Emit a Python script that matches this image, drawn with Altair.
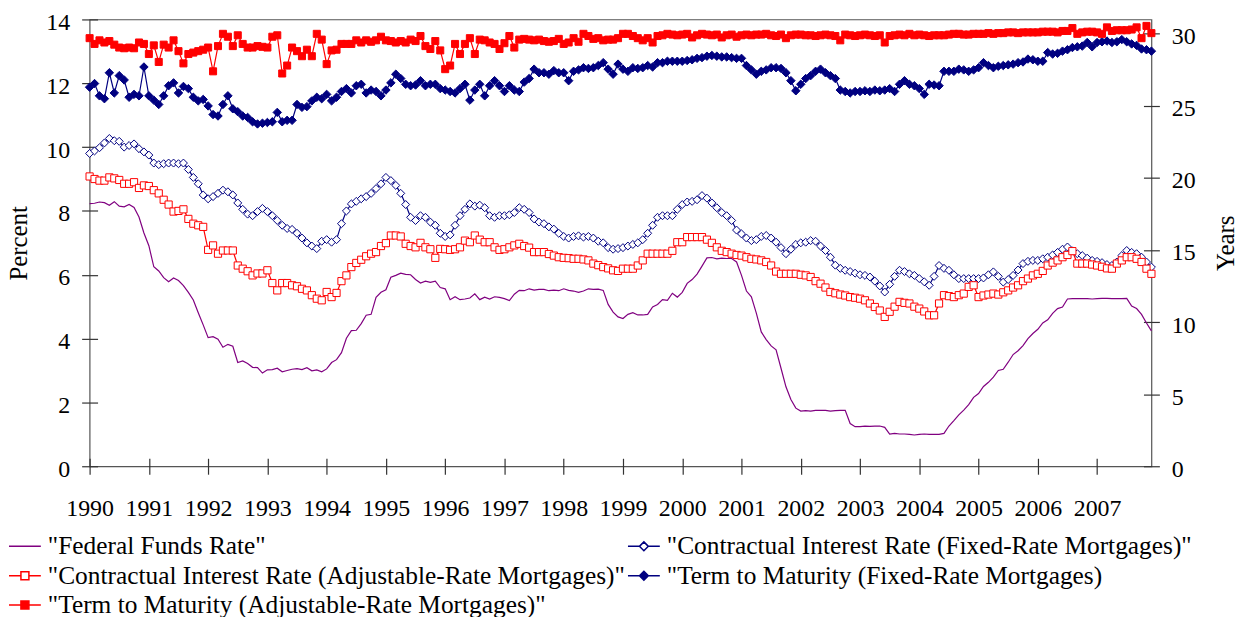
import altair as alt
import pandas as pd

YEARS = list(range(1990, 2008))
MONTHS = list(range(1, 13))

# legend is laid out column by column: left column first, then right column
SERIES = [
    '"Federal Funds Rate"',
    '"Contractual Interest Rate (Adjustable-Rate Mortgages)"',
    '"Term to Maturity (Adjustable-Rate Mortgages)"',
    '"Contractual Interest Rate (Fixed-Rate Mortgages)"',
    '"Term to Maturity (Fixed-Rate Mortgages)',
]

FED_FUNDS = [
    8.23, 8.24, 8.28, 8.26, 8.18, 8.29, 8.15, 8.13, 8.20, 8.11, 7.81, 7.31,
    6.91, 6.25, 6.12, 5.91, 5.78, 5.90, 5.82, 5.66, 5.45, 5.21, 4.81, 4.43,
    4.03, 4.06, 3.98, 3.73, 3.82, 3.76, 3.25, 3.30, 3.22, 3.10, 3.09, 2.92,
    3.02, 3.03, 3.07, 2.96, 3.00, 3.04, 3.06, 3.03, 3.09, 2.99, 3.02, 2.96,
    3.05, 3.25, 3.34, 3.56, 4.01, 4.25, 4.26, 4.47, 4.73, 4.76, 5.29, 5.45,
    5.53, 5.92, 5.98, 6.05, 6.01, 6.00, 5.85, 5.74, 5.80, 5.76, 5.80, 5.60,
    5.56, 5.22, 5.31, 5.22, 5.24, 5.27, 5.40, 5.22, 5.30, 5.24, 5.31, 5.29,
    5.25, 5.19, 5.39, 5.51, 5.50, 5.56, 5.52, 5.54, 5.54, 5.50, 5.52, 5.50,
    5.56, 5.51, 5.49, 5.45, 5.49, 5.56, 5.54, 5.55, 5.51, 5.07, 4.83, 4.68,
    4.63, 4.76, 4.81, 4.74, 4.74, 4.76, 4.99, 5.07, 5.22, 5.20, 5.42, 5.30,
    5.45, 5.73, 5.85, 6.02, 6.27, 6.53, 6.54, 6.50, 6.52, 6.51, 6.51, 6.40,
    5.98, 5.49, 5.31, 4.80, 4.21, 3.97, 3.77, 3.65, 3.07, 2.49, 2.09, 1.82,
    1.73, 1.74, 1.73, 1.75, 1.75, 1.75, 1.73, 1.74, 1.75, 1.75, 1.34, 1.24,
    1.24, 1.26, 1.25, 1.26, 1.26, 1.22, 1.01, 1.03, 1.01, 1.01, 1.00, 0.98,
    1.00, 1.01, 1.00, 1.00, 1.00, 1.03, 1.26, 1.43, 1.61, 1.76, 1.93, 2.16,
    2.28, 2.50, 2.63, 2.79, 3.00, 3.04, 3.26, 3.50, 3.62, 3.78, 4.00, 4.16,
    4.29, 4.49, 4.59, 4.79, 4.94, 4.99, 5.24, 5.25, 5.25, 5.25, 5.25, 5.24,
    5.25, 5.26, 5.26, 5.25, 5.25, 5.25, 5.26, 5.02, 4.94, 4.76, 4.49, 4.24,
]

FRM_RATE = [
    9.80, 9.88, 9.98, 10.13, 10.27, 10.20, 10.18, 10.00, 10.05, 10.10, 9.95, 9.85,
    9.75, 9.50, 9.45, 9.48, 9.50, 9.50, 9.48, 9.50, 9.30, 9.05, 8.85, 8.50,
    8.38, 8.45, 8.55, 8.65, 8.60, 8.50, 8.25, 8.05, 7.90, 7.85, 7.98, 8.08,
    7.98, 7.85, 7.70, 7.55, 7.45, 7.42, 7.30, 7.15, 7.00, 6.90, 6.82, 7.05,
    7.10, 7.02, 7.10, 7.60, 8.00, 8.22, 8.30, 8.38, 8.45, 8.55, 8.70, 8.85,
    9.05, 8.95, 8.80, 8.55, 8.20, 7.80, 7.70, 7.85, 7.80, 7.65, 7.55, 7.30,
    7.20, 7.25, 7.55, 7.85, 8.05, 8.22, 8.15, 8.18, 8.10, 7.85, 7.80, 7.85,
    7.85, 7.88, 7.95, 8.10, 8.05, 7.95, 7.75, 7.65, 7.60, 7.50, 7.43, 7.30,
    7.20, 7.15, 7.20, 7.22, 7.18, 7.20, 7.15, 7.05, 7.00, 6.85, 6.80, 6.82,
    6.85, 6.90, 6.95, 7.00, 7.10, 7.30, 7.55, 7.80, 7.85, 7.85, 7.85, 8.05,
    8.20, 8.28, 8.30, 8.35, 8.48, 8.40, 8.25, 8.10, 7.95, 7.85, 7.70, 7.40,
    7.28, 7.15, 7.07, 7.10, 7.20, 7.23, 7.15, 7.02, 6.85, 6.66, 6.80, 6.95,
    7.00, 7.02, 7.07, 7.05, 6.90, 6.76, 6.55, 6.30, 6.20, 6.14, 6.10, 6.05,
    6.00, 5.98, 5.93, 5.80, 5.65, 5.46, 5.70, 5.95, 6.14, 6.10, 6.03, 5.98,
    5.88, 5.78, 5.67, 5.95, 6.29, 6.20, 6.14, 6.00, 5.88, 5.88, 5.88, 5.88,
    5.88, 5.90, 6.00, 6.09, 5.95, 5.77, 5.85, 5.98, 6.15, 6.35, 6.42, 6.45,
    6.45, 6.50, 6.55, 6.62, 6.70, 6.80, 6.87, 6.75, 6.66, 6.60, 6.52, 6.45,
    6.42, 6.38, 6.32, 6.29, 6.40, 6.60, 6.76, 6.70, 6.66, 6.55, 6.40, 6.24,
]

ARM_RATE = [
    9.08, 9.00, 8.95, 8.95, 9.05, 9.02, 8.97, 8.85, 8.85, 8.90, 8.72, 8.80,
    8.78, 8.65, 8.55, 8.35, 8.20, 7.98, 8.00, 8.05, 7.75, 7.60, 7.55, 7.50,
    6.78, 6.92, 6.66, 6.76, 6.76, 6.76, 6.29, 6.19, 6.11, 5.98, 6.04, 6.04,
    6.14, 5.74, 5.51, 5.74, 5.74, 5.67, 5.64, 5.56, 5.51, 5.36, 5.25, 5.20,
    5.46, 5.30, 5.43, 5.80, 5.98, 6.24, 6.37, 6.47, 6.58, 6.66, 6.71, 6.90,
    6.99, 7.23, 7.23, 7.20, 6.97, 6.90, 6.86, 7.00, 6.86, 6.80, 6.53, 6.81,
    6.80, 6.78, 6.80, 6.86, 7.07, 7.02, 7.23, 7.10, 7.02, 7.02, 6.86, 6.78,
    6.80, 6.86, 6.92, 6.97, 6.90, 6.85, 6.71, 6.71, 6.71, 6.65, 6.60, 6.55,
    6.53, 6.52, 6.50, 6.50, 6.48, 6.45, 6.35, 6.30, 6.24, 6.20, 6.14, 6.12,
    6.19, 6.19, 6.19, 6.29, 6.45, 6.66, 6.66, 6.66, 6.66, 6.66, 6.75, 7.02,
    7.02, 7.18, 7.18, 7.18, 7.18, 7.10, 7.00, 6.86, 6.75, 6.71, 6.66, 6.62,
    6.60, 6.55, 6.50, 6.48, 6.45, 6.40, 6.29, 6.10, 6.03, 6.03, 6.03, 6.03,
    6.00, 5.98, 5.93, 5.80, 5.72, 5.60, 5.46, 5.42, 5.38, 5.35, 5.30, 5.28,
    5.25, 5.20, 5.10, 4.99, 4.88, 4.68, 4.84, 5.00, 5.15, 5.12, 5.10, 5.00,
    4.94, 4.85, 4.73, 4.73, 5.10, 5.36, 5.33, 5.30, 5.36, 5.41, 5.62, 5.67,
    5.30, 5.35, 5.38, 5.41, 5.38, 5.45, 5.51, 5.60, 5.67, 5.80, 5.88, 5.98,
    6.03, 6.12, 6.29, 6.38, 6.45, 6.55, 6.62, 6.74, 6.35, 6.35, 6.35, 6.32,
    6.29, 6.25, 6.20, 6.19, 6.35, 6.45, 6.55, 6.55, 6.50, 6.40, 6.19, 6.03,
]

FRM_TERM = [
    26.3, 26.55, 25.7, 25.5, 27.3, 25.9, 27.1, 26.8, 25.6, 25.8, 25.7, 27.7,
    25.7, 25.4, 25.1, 25.7, 26.4, 26.6, 25.9, 26.35, 26.2, 25.6, 25.35, 25.45,
    25.0, 24.4, 24.3, 25.1, 25.7, 24.8, 24.6, 24.3, 24.2, 23.9, 23.75, 23.8,
    23.85, 23.9, 24.55, 23.9, 24.0, 24.0, 25.1, 24.9, 24.95, 25.35, 25.6, 25.5,
    25.8, 25.35, 25.6, 26.0, 26.2, 25.9, 26.4, 26.5, 25.9, 26.1, 26.0, 25.7,
    26.1, 26.6, 27.2, 26.9, 26.5, 26.4, 26.45, 26.75, 26.4, 26.5, 26.5, 26.2,
    26.1, 26.0, 25.9, 26.2, 26.5, 25.4, 26.1, 26.5, 25.7, 26.4, 26.75, 26.4,
    26.0, 26.4, 26.1, 26.0, 26.65, 26.9, 27.55, 27.3, 27.3, 27.2, 27.45, 27.3,
    27.3, 26.75, 27.4, 27.5, 27.65, 27.6, 27.65, 27.8, 28.0, 27.55, 27.2, 27.9,
    27.55, 27.4, 27.65, 27.6, 27.65, 27.8, 27.7, 28.0, 28.0, 28.1, 28.1, 28.1,
    28.1, 28.15, 28.2, 28.3, 28.35, 28.45, 28.5, 28.45, 28.4, 28.4, 28.35, 28.3,
    28.3, 27.8, 27.5, 27.2, 27.4, 27.5, 27.65, 27.65, 27.6, 27.3, 26.75, 26.05,
    26.5, 26.9, 27.1, 27.4, 27.55, 27.3, 27.1, 26.9, 26.1, 26.0, 25.9, 26.0,
    26.0, 26.05, 26.0, 26.1, 26.05, 26.1, 26.2, 26.0, 26.5, 26.75, 26.5, 26.4,
    26.2, 25.8, 26.5, 26.45, 26.4, 27.4, 27.4, 27.4, 27.55, 27.5, 27.4, 27.5,
    27.65, 28.0, 27.8, 27.65, 27.75, 27.8, 27.85, 27.9, 28.0, 28.05, 28.25, 28.2,
    28.1, 28.1, 28.7, 28.6, 28.65, 28.8, 28.9, 29.05, 29.1, 29.15, 29.4, 29.1,
    29.4, 29.45, 29.5, 29.4, 29.45, 29.6, 29.45, 29.3, 29.2, 28.95, 28.9, 28.8,
]

ARM_TERM = [
    29.7, 29.3, 29.55, 29.4, 29.5, 29.25, 29.05, 29.0, 29.05, 29.0, 29.4, 29.3,
    28.6, 29.2, 28.05, 29.25, 29.05, 29.55, 28.8, 27.95, 28.6, 28.7, 28.8, 28.9,
    29.05, 27.4, 29.15, 30.0, 29.8, 29.15, 29.9, 29.3, 29.05, 29.05, 29.15, 29.1,
    29.05, 29.8, 29.9, 27.25, 27.8, 29.05, 28.8, 28.45, 28.9, 28.45, 30.0, 29.6,
    27.9, 28.85, 28.9, 29.3, 29.3, 29.3, 29.55, 29.4, 29.55, 29.45, 29.55, 29.8,
    29.55, 29.5, 29.4, 29.5, 29.4, 29.6, 29.5, 29.85, 29.15, 28.95, 29.5, 28.85,
    27.55, 27.8, 29.3, 28.6, 29.3, 29.7, 28.6, 29.6, 29.55, 29.4, 29.3, 28.95,
    29.35, 29.85, 29.05, 29.6, 29.65, 29.6, 29.55, 29.6, 29.5, 29.45, 29.5, 29.65,
    29.3, 29.4, 29.7, 29.45, 30.0, 29.85, 29.65, 29.7, 29.55, 29.6, 29.6, 29.7,
    30.0, 30.0, 29.85, 29.7, 29.55, 29.7, 29.4, 29.85, 29.9, 30.0, 29.95, 29.9,
    29.95, 30.0, 29.75, 29.9, 30.0, 29.95, 29.9, 29.95, 29.75, 29.9, 29.95, 29.8,
    29.9, 29.95, 29.9, 29.95, 29.95, 30.0, 29.9, 29.85, 29.95, 29.7, 29.9, 29.95,
    29.95, 29.9, 29.9, 29.85, 29.9, 29.95, 29.9, 29.85, 29.55, 29.95, 29.9, 29.85,
    29.9, 29.95, 29.9, 29.85, 29.9, 29.4, 29.85, 29.9, 29.95, 29.9, 30.0, 29.9,
    29.95, 29.9, 29.85, 29.9, 29.9, 29.9, 29.95, 30.0, 30.0, 29.95, 29.95, 30.0,
    30.0, 30.0, 30.05, 30.0, 30.05, 30.05, 30.1, 30.1, 30.05, 30.1, 30.1, 30.1,
    30.1, 30.15, 30.15, 30.15, 30.1, 30.2, 30.2, 30.4, 30.0, 30.1, 30.15, 30.15,
    30.1, 30.0, 30.45, 30.2, 30.25, 30.25, 30.25, 30.3, 30.45, 29.7, 30.55, 30.05,
]

PURPLE, NAVY, RED = "#800080", "#000080", "#FF0000"
# same order as SERIES
STROKES = [PURPLE, RED, RED, NAVY, NAVY]
FILLS = ["white", "white", RED, "white", NAVY]
LEGEND_SHAPES = [
    "M-1,0H1",
    "M-1,0H-0.25M0.25,0H1M-0.25,-0.25H0.25V0.25H-0.25Z",
    "M-1,0H1M-0.25,-0.25H0.25V0.25H-0.25Z",
    "M-1,0H-0.28M0.28,0H1M0,-0.28L0.28,0L0,0.28L-0.28,0Z",
    "M-1,0H1M0,-0.28L0.28,0L0,0.28L-0.28,0Z",
]

T = [y + (m - 1) / 12 for y in YEARS for m in MONTHS]
for arr in (FED_FUNDS, FRM_RATE, ARM_RATE, FRM_TERM, ARM_TERM):
    assert len(arr) == len(T)


def frame(name, values):
    return pd.DataFrame({"t": T, "value": values, "series": name})


df_ffr = frame(SERIES[0], FED_FUNDS)
df_arm = frame(SERIES[1], ARM_RATE)
df_arm_t = frame(SERIES[2], ARM_TERM)
df_frm = frame(SERIES[3], FRM_RATE)
df_frm_t = frame(SERIES[4], FRM_TERM)
df_all = pd.concat([df_ffr, df_arm, df_arm_t, df_frm, df_frm_t], ignore_index=True)

FONT = "Liberation Serif"

x_enc = alt.X(
    "t:Q",
    scale=alt.Scale(domain=[T[0], T[-1]], nice=False, zero=False),
    axis=alt.Axis(values=YEARS, format="d", title=None, offset=-8, tickSize=16,
                  labelPadding=22, labelFlush=False, labelOverlap=False),
)
y_left = alt.Y(
    "value:Q",
    scale=alt.Scale(domain=[0, 14], nice=False, zero=True),
    axis=alt.Axis(values=list(range(0, 15, 2)), orient="left", title="Percent",
                  offset=-8, tickSize=16, labelPadding=12, labelOffset=3,
                  titlePadding=14),
)
y_right = alt.Y(
    "value:Q",
    scale=alt.Scale(domain=[0, 31], nice=False, zero=True),
    axis=alt.Axis(values=list(range(0, 31, 5)), orient="right", title="Years",
                  offset=-8, tickSize=16, labelPadding=12, labelOffset=3,
                  titlePadding=18, titleAngle=270, titleBaseline="top"),
)


def line(df, color, y, width=1.2):
    return alt.Chart(df).mark_line(color=color, strokeWidth=width).encode(x=x_enc, y=y)


def points(df, shape, size, fill, stroke, y):
    return alt.Chart(df).mark_point(
        shape=shape, size=size, filled=True, fill=fill, stroke=stroke,
        strokeWidth=1, opacity=1
    ).encode(x=x_enc, y=y)


legend = alt.Legend(
    orient="none", legendX=-82, legendY=515, columns=2, title=None,
    symbolSize=1024, symbolStrokeWidth=1.5, symbolFillColor="white",
    symbolStrokeColor="black", symbolOpacity=1, labelOffset=6,
    columnPadding=1, rowPadding=0.5, clipHeight=29, labelLimit=1000, padding=0,
    labelFont=FONT, labelFontSize=25.5, labelColor="black",
)

legend_layer = alt.Chart(df_all).transform_filter("datum.value < -1").mark_point(
    filled=True, opacity=1
).encode(
    x=x_enc,
    y=y_left,
    shape=alt.Shape("series:N", scale=alt.Scale(domain=SERIES, range=LEGEND_SHAPES), legend=legend),
    fill=alt.Fill("series:N", scale=alt.Scale(domain=SERIES, range=FILLS), legend=legend),
    stroke=alt.Stroke("series:N", scale=alt.Scale(domain=SERIES, range=STROKES), legend=legend),
)

left = alt.layer(
    line(df_ffr, PURPLE, y_left, 1.2),
    line(df_frm, NAVY, y_left),
    points(df_frm, "diamond", 64, "white", NAVY, y_left),
    line(df_arm, RED, y_left),
    points(df_arm, "square", 52, "white", RED, y_left),
    legend_layer,
)
right = alt.layer(
    line(df_frm_t, NAVY, y_right),
    points(df_frm_t, "diamond", 72, NAVY, NAVY, y_right),
    line(df_arm_t, RED, y_right),
    points(df_arm_t, "square", 50, RED, RED, y_right),
)

chart = alt.layer(left, right).resolve_scale(y="independent").properties(
    width=1067, height=449,
    autosize=alt.AutoSizeParams(type="none"),
    padding={"left": 82, "top": 10, "right": 85, "bottom": 150},
    background="white",
).configure_view(
    stroke="#555555", strokeWidth=1.2
).configure_axis(
    labelFont=FONT, labelFontSize=24, labelColor="black",
    titleFont=FONT, titleFontSize=25, titleFontWeight="normal", titleColor="black",
    tickColor="#333333", tickWidth=1.2, domain=False, grid=False,
)

chart.save("out.html", embed_options={"renderer": "svg", "actions": False})
